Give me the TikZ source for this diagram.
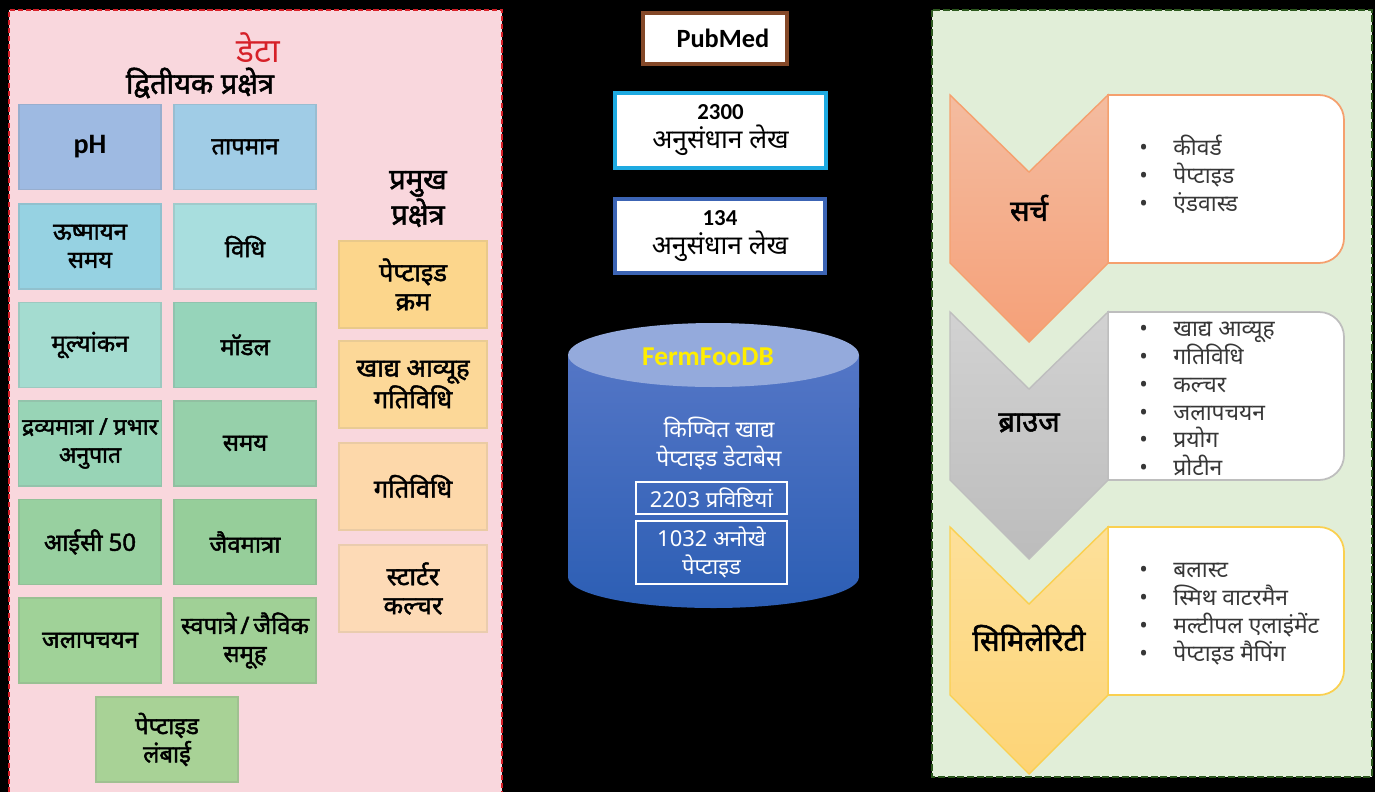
\documentclass[tikz,border=0pt]{standalone}
\usepackage{fontspec}
\setmainfont[Script=Devanagari, AutoFakeBold=1.8]{Noto Sans}
\newfontfamily\latinbold{Carlito}
\usetikzlibrary{positioning, calc}
\definecolor{panelPink}{RGB}{249,215,221}
\definecolor{panelRed}{RGB}{214,32,40}
\definecolor{panelGreen}{RGB}{225,238,216}
\definecolor{borderGreen}{RGB}{44,88,30}
\definecolor{phBlue}{RGB}{158,186,226}
\definecolor{tempBlue}{RGB}{160,204,230}
\definecolor{incubTeal}{RGB}{150,210,226}
\definecolor{methodTeal}{RGB}{168,222,222}
\definecolor{evalGreen}{RGB}{164,220,208}
\definecolor{modelGreen}{RGB}{150,212,186}
\definecolor{doseGreen}{RGB}{152,212,182}
\definecolor{timeGreen}{RGB}{150,208,170}
\definecolor{icGreen}{RGB}{152,208,160}
\definecolor{bioGreen}{RGB}{150,206,154}
\definecolor{hydroGreen}{RGB}{160,210,152}
\definecolor{groupGreen}{RGB}{160,208,150}
\definecolor{lenGreen}{RGB}{168,210,150}
\definecolor{seqOrange}{RGB}{252,214,140}
\definecolor{matOrange}{RGB}{252,216,152}
\definecolor{actOrange}{RGB}{253,216,170}
\definecolor{startOrange}{RGB}{253,218,182}
\definecolor{pubBrown}{RGB}{132,72,40}
\definecolor{artCyan}{RGB}{30,170,225}
\definecolor{artBlue}{RGB}{60,100,180}
\definecolor{dbTop}{RGB}{148,170,220}
\definecolor{dbLight}{RGB}{84,118,198}
\definecolor{dbDark}{RGB}{44,94,180}
\definecolor{dbYellow}{RGB}{255,238,0}
\definecolor{srchTop}{RGB}{244,188,160}
\definecolor{srchBot}{RGB}{245,160,120}
\definecolor{srchLine}{RGB}{245,160,110}
\definecolor{brwsTop}{RGB}{210,210,210}
\definecolor{brwsBot}{RGB}{188,188,188}
\definecolor{brwsLine}{RGB}{190,190,190}
\definecolor{simTop}{RGB}{253,224,154}
\definecolor{simBot}{RGB}{253,212,118}
\definecolor{simLine}{RGB}{250,208,80}
\definecolor{listGray}{RGB}{55,55,55}
\newcommand{\blt}{\makebox[0.68cm][l]{\textbullet}}

\begin{document}
\begin{tikzpicture}[
    x=0.02cm, y=-0.02cm,
    % secondary field boxes: \node[secbox=COLOR]
    secbox/.style={
        rectangle, draw=#1!80!gray, fill=#1,
        line width=0.8pt,
        minimum width=2.84cm, minimum height=1.7cm,
        align=center, inner sep=2pt,
        font=\fontsize{13.6}{16}\selectfont\bfseries
    },
    % main field boxes
    mainbox/.style={
        rectangle, draw=#1!85!gray, fill=#1,
        line width=0.8pt,
        minimum width=2.96cm, minimum height=1.74cm,
        align=center, inner sep=2pt,
        font=\fontsize{14.5}{16.5}\selectfont\bfseries
    },
    % source boxes in the middle
    srcbox/.style={
        rectangle, draw=#1, fill=white,
        line width=1.8pt, align=center,
        font=\fontsize{15}{16.5}\selectfont
    },
    dbbox/.style={
        rectangle, draw=white, line width=0.8pt,
        minimum width=3.02cm, text=white, align=center,
        font=\fontsize{12.5}{16}\selectfont
    },
    chevlabel/.style={font=\fontsize{16.5}{18}\selectfont\bfseries},
    itemlist/.style={anchor=west, align=left, inner sep=0pt,
                     text=listGray, font=\fontsize{13}{15.9}\selectfont}
]
\useasboundingbox (0,0) rectangle (1375,792);
\fill[black] (0,0) rectangle (1375,792);
% ── LEFT PANEL: data ─────────────────────────────────────────
\fill[panelPink] (9,10) rectangle (502,792);
\draw[panelRed, line width=1.6pt, dash pattern=on 3pt off 1.5pt]
    (9,792) -- (9,10) -- (502,10) -- (502,792);
\node[text=panelRed, font=\fontsize{19}{20}\selectfont] (datatitle) at (258,48) {डेटा};
\node[font=\fontsize{16.5}{18}\selectfont\bfseries] (sectitle) at (200,83) {द्वितीयक प्रक्षेत्र};
\node[font=\fontsize{16.5}{18.5}\selectfont\bfseries, align=center] (maintitle) at (418,199)
    {प्रमुख\\ प्रक्षेत्र};

\node[secbox=phBlue, font=\fontsize{16}{16}\latinbold\bfseries] (ph) at (90,147) {pH};
\node[secbox=tempBlue]   (temp)   at (245,147)   {तापमान};
\node[secbox=incubTeal]  (incub)  at (90,246.5)  {ऊष्मायन\\ समय};
\node[secbox=methodTeal] (method) at (245,246.5) {विधि};
\node[secbox=evalGreen]  (eval)   at (90,345)    {मूल्यांकन};
\node[secbox=modelGreen] (model)  at (245,345)   {मॉडल};
\node[secbox=doseGreen, font=\fontsize{13}{16}\selectfont\bfseries]
                         (dose)   at (90,443.5)  {द्रव्यमात्रा / प्रभार\\ अनुपात};
\node[secbox=timeGreen]  (time)   at (245,443.5) {समय};
\node[secbox=icGreen]    (icfifty) at (90,542)   {आईसी  50};
\node[secbox=bioGreen]   (biomass) at (245,542)  {जैवमात्रा};
\node[secbox=hydroGreen] (hydro)  at (90,640.5)  {जलापचयन};
\node[secbox=groupGreen] (group)  at (245,640.5) {स्वपात्रे\,/\,जैविक\\ समूह};
\node[secbox=lenGreen]   (pepLen) at (167,739.5) {पेप्टाइड\\ लंबाई};

\node[mainbox=seqOrange]   (pepSeq)  at (413,284.5) {पेप्टाइड\\ क्रम};
\node[mainbox=matOrange]   (matAct)  at (413,384.5) {खाद्य आव्यूह\\ गतिविधि};
\node[mainbox=actOrange]   (activ)   at (413,486.5) {गतिविधि};
\node[mainbox=startOrange] (starter) at (413,588.5) {स्टार्टर\\ कल्चर};
% ── MIDDLE: sources and database ─────────────────────────────
\node[srcbox=pubBrown, minimum width=2.88cm, minimum height=1.02cm,
      font=\fontsize{15}{17}\latinbold\bfseries] (pubmed) at (715,38.5) {\hspace{0.6em}PubMed};
\node[srcbox=artCyan, minimum width=4.22cm, minimum height=1.5cm]
    (artAll) at (720.5,130.5) {{\fontsize{13}{13}\latinbold\bfseries 2300}\\ अनुसंधान लेख};
\node[srcbox=artBlue, minimum width=4.2cm, minimum height=1.48cm]
    (artSel) at (720,236) {{\fontsize{13}{13}\latinbold\bfseries 134}\\ अनुसंधान लेख};

% database cylinder
\path[top color=dbLight, bottom color=dbDark]
    (568,355) -- (568,577) arc[start angle=180, end angle=360,
    x radius=2.91cm, y radius=0.62cm] -- (859,355) -- cycle;
\fill[dbTop] (713.5,355) ellipse[x radius=2.91cm, y radius=0.64cm];
\node[text=dbYellow, font=\fontsize{15.5}{17}\latinbold\bfseries] (dbname) at (708,357) {FermFooDB};
\node[text=white, align=center, font=\fontsize{13}{16.5}\selectfont] (dbdesc) at (719,444)
    {किण्वित खाद्य\\ पेप्टाइड डेटाबेस};
\node[dbbox, minimum height=0.64cm] (entries) at (711.5,498) {2203 प्रविष्टियां};
\node[dbbox, minimum height=1.22cm] (unique)  at (711.5,552.5) {1032 अनोखे\\ पेप्टाइड};
% ── RIGHT PANEL: tools ───────────────────────────────────────
\fill[panelGreen] (932,10) rectangle (1372,777);
\draw[borderGreen, line width=1.6pt, dash pattern=on 4pt off 1.5pt]
    (932,10) rectangle (1372,777);

% search
\draw[srchLine, fill=white, line width=1pt]
    (1108,95) -- (1319,95) arc[start angle=90, end angle=0, radius=0.5cm]
    -- (1344,238) arc[start angle=0, end angle=-90, radius=0.5cm] -- (1108,263) -- cycle;
\draw[srchLine, line width=0.8pt, top color=srchTop, bottom color=srchBot]
    (950,95) -- (1029,172) -- (1108,95) -- (1108,263) -- (1029,342) -- (950,263) -- cycle;
\node[chevlabel] (search) at (1029,208) {सर्च};
\node[itemlist] (searchlist) at (1139,174) {\blt कीवर्ड\\ \blt पेप्टाइड\\ \blt एंडवास्ड};

% browse
\draw[brwsLine, fill=white, line width=1pt]
    (1108,312) -- (1319,312) arc[start angle=90, end angle=0, radius=0.5cm]
    -- (1344,455) arc[start angle=0, end angle=-90, radius=0.5cm] -- (1108,480) -- cycle;
\draw[brwsLine, line width=0.8pt, top color=brwsTop, bottom color=brwsBot]
    (950,312) -- (1029,389) -- (1108,312) -- (1108,480) -- (1029,559) -- (950,480) -- cycle;
\node[chevlabel] (browse) at (1029,423) {ब्राउज};
\node[itemlist] (browselist) at (1139,399) {\blt खाद्य आव्यूह\\ \blt गतिविधि\\ \blt कल्चर\\
    \blt जलापचयन\\ \blt प्रयोग\\ \blt प्रोटीन};

% similarity
\draw[simLine, fill=white, line width=1pt]
    (1108,527) -- (1319,527) arc[start angle=90, end angle=0, radius=0.5cm]
    -- (1344,670) arc[start angle=0, end angle=-90, radius=0.5cm] -- (1108,695) -- cycle;
\draw[simLine, line width=0.8pt, top color=simTop, bottom color=simBot]
    (950,527) -- (1029,604) -- (1108,527) -- (1108,695) -- (1029,774) -- (950,695) -- cycle;
\node[chevlabel] (similar) at (1029,638) {सिमिलेरिटी};
\node[itemlist] (similarlist) at (1139,614) {\blt बलास्ट\\ \blt स्मिथ वाटरमैन\\
    \blt मल्टीपल एलाइंमेंट\\ \blt पेप्टाइड मैपिंग};
\end{tikzpicture}
\end{document}
